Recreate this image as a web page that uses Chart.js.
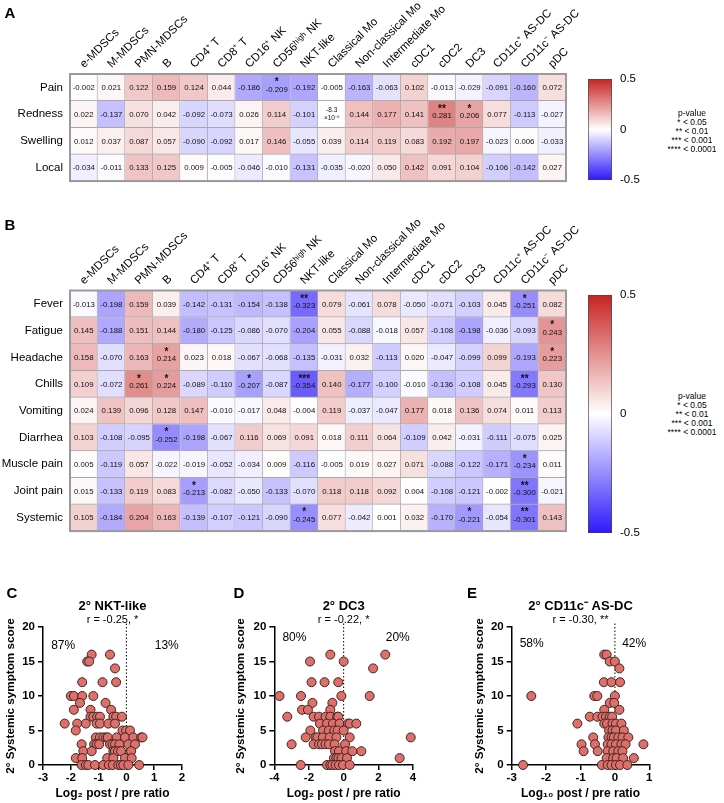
<!DOCTYPE html>
<html>
<head>
<meta charset="utf-8">
<script src="https://cdn.jsdelivr.net/npm/chart.js@4.4.1/dist/chart.umd.min.js"></script>
<style>
  body { margin: 0; background: #fff; }
  #fig { position: relative; width: 724px; height: 803px; overflow: hidden; font-family: 'Liberation Sans', Arial, sans-serif; color: #000; }
  #fig canvas { position: absolute; }
  .letter { position: absolute; font-weight: bold; font-size: 15px; line-height: 1; transform: translate(-50%, -50%); }
  .pval { position: absolute; font-size: 8.5px; line-height: 9px; text-align: center; white-space: nowrap; transform: translate(-50%, -50%); }
</style>
</head>
<body>
<div id="fig">
  <canvas id="heatA" width="580" height="195" style="left:0;top:0"></canvas>
  <canvas id="barA" width="72" height="131" style="left:578px;top:64px"></canvas>
  <canvas id="heatB" width="580" height="345" style="left:0;top:200px"></canvas>
  <canvas id="barB" width="72" height="268" style="left:578px;top:280px"></canvas>
  <canvas id="scatC" width="225" height="213" style="left:0;top:590px"></canvas>
  <canvas id="scatD" width="215" height="213" style="left:230px;top:590px"></canvas>
  <canvas id="scatE" width="215" height="213" style="left:469px;top:590px"></canvas>

  <div class="letter" style="left:10px;top:12px">A</div>
  <div class="letter" style="left:10px;top:224px">B</div>
  <div class="letter" style="left:12px;top:592px">C</div>
  <div class="letter" style="left:239px;top:592px">D</div>
  <div class="letter" style="left:472px;top:592px">E</div>

  <div class="pval" style="left:692px;top:131px">p-value<br>* &lt; 0.05<br>** &lt; 0.01<br>*** &lt; 0.001<br>**** &lt; 0.0001</div>
  <div class="pval" style="left:692px;top:414px">p-value<br>* &lt; 0.05<br>** &lt; 0.01<br>*** &lt; 0.001<br>**** &lt; 0.0001</div>
</div>

<script>
Chart.defaults.font.family = "'Liberation Sans', Arial, sans-serif";
Chart.defaults.color = '#000';

// cell types (columns of both heatmaps)
const cellTypes = ['e-MDSCs', 'M-MDSCs', 'PMN-MDSCs', 'B', 'CD4⁺ T', 'CD8⁺ T', 'CD16⁺ NK', 'CD56ʰⁱᵍʰ NK',
    'NKT-like', 'Classical Mo', 'Non-classical Mo', 'Intermediate Mo', 'cDC1', 'cDC2', 'DC3',
    'CD11c⁺ AS-DC', 'CD11c⁻ AS-DC', 'pDC'];

// A - local symptoms, correlation r
const localSymptoms = ['Pain', 'Redness', 'Swelling', 'Local'];
const localR = [
    [-0.002, 0.021, 0.122, 0.159, 0.124, 0.044, -0.186, -0.209, -0.192, -0.005, -0.163, -0.063, 0.102, -0.013, -0.029, -0.091, -0.160, 0.072],
    [0.022, -0.137, 0.070, 0.042, -0.092, -0.073, 0.026, 0.114, -0.101, -0.000083, 0.144, 0.177, 0.141, 0.281, 0.206, 0.077, -0.113, -0.027],
    [0.012, 0.037, 0.087, 0.057, -0.090, -0.092, 0.017, 0.146, -0.055, 0.039, 0.114, 0.119, 0.083, 0.192, 0.197, -0.023, 0.006, -0.033],
    [-0.034, -0.011, 0.133, 0.125, 0.009, -0.005, -0.046, -0.010, -0.131, -0.035, -0.020, 0.050, 0.142, 0.091, 0.104, -0.106, -0.142, 0.027]
];
// number of stars per cell
const localStars = [
    [0, 0, 0, 0, 0, 0, 0, 1, 0, 0, 0, 0, 0, 0, 0, 0, 0, 0],
    [0, 0, 0, 0, 0, 0, 0, 0, 0, 0, 0, 0, 0, 2, 1, 0, 0, 0],
    [0, 0, 0, 0, 0, 0, 0, 0, 0, 0, 0, 0, 0, 0, 0, 0, 0, 0],
    [0, 0, 0, 0, 0, 0, 0, 0, 0, 0, 0, 0, 0, 0, 0, 0, 0, 0]
];

// B - systemic symptoms
const systemicSymptoms = ['Fever', 'Fatigue', 'Headache', 'Chills', 'Vomiting', 'Diarrhea', 'Muscle pain', 'Joint pain', 'Systemic'];
const systemicR = [
    [-0.013, -0.198, 0.159, 0.039, -0.142, -0.131, -0.154, -0.138, -0.323, 0.079, -0.061, 0.078, -0.050, -0.071, -0.103, 0.045, -0.251, 0.082],
    [0.145, -0.188, 0.151, 0.144, -0.180, -0.125, -0.086, -0.070, -0.204, 0.055, -0.088, -0.018, 0.057, -0.108, -0.198, -0.036, -0.093, 0.243],
    [0.158, -0.070, 0.163, 0.214, 0.023, 0.018, -0.067, -0.068, -0.135, -0.031, 0.032, -0.113, 0.020, -0.047, -0.099, 0.099, -0.193, 0.223],
    [0.109, -0.072, 0.261, 0.224, -0.089, -0.110, -0.207, -0.087, -0.354, 0.140, -0.177, -0.100, -0.010, -0.136, -0.108, 0.045, -0.293, 0.130],
    [0.024, 0.139, 0.096, 0.128, 0.147, -0.010, -0.017, 0.048, -0.004, 0.119, -0.037, -0.047, 0.177, 0.018, 0.136, 0.074, 0.011, 0.113],
    [0.103, -0.108, -0.095, -0.252, -0.198, -0.067, 0.116, 0.069, 0.091, 0.018, 0.111, 0.064, -0.109, 0.042, -0.031, -0.111, -0.075, 0.025],
    [0.005, -0.119, 0.057, -0.022, -0.019, -0.052, -0.034, 0.009, -0.116, -0.005, 0.019, 0.027, 0.071, -0.088, -0.122, -0.171, -0.234, 0.011],
    [0.015, -0.133, 0.119, 0.083, -0.213, -0.082, -0.050, -0.133, -0.070, 0.118, 0.118, 0.092, 0.004, -0.108, -0.121, -0.002, -0.300, -0.021],
    [0.105, -0.184, 0.204, 0.163, -0.139, -0.107, -0.121, -0.090, -0.245, 0.077, -0.042, 0.001, 0.032, -0.170, -0.221, -0.054, -0.301, 0.143]
];
const systemicStars = [
    [0, 0, 0, 0, 0, 0, 0, 0, 2, 0, 0, 0, 0, 0, 0, 0, 1, 0],
    [0, 0, 0, 0, 0, 0, 0, 0, 0, 0, 0, 0, 0, 0, 0, 0, 0, 1],
    [0, 0, 0, 1, 0, 0, 0, 0, 0, 0, 0, 0, 0, 0, 0, 0, 0, 1],
    [0, 0, 1, 1, 0, 0, 1, 0, 3, 0, 0, 0, 0, 0, 0, 0, 2, 0],
    [0, 0, 0, 0, 0, 0, 0, 0, 0, 0, 0, 0, 0, 0, 0, 0, 0, 0],
    [0, 0, 0, 1, 0, 0, 0, 0, 0, 0, 0, 0, 0, 0, 0, 0, 0, 0],
    [0, 0, 0, 0, 0, 0, 0, 0, 0, 0, 0, 0, 0, 0, 0, 0, 1, 0],
    [0, 0, 0, 0, 1, 0, 0, 0, 0, 0, 0, 0, 0, 0, 0, 0, 2, 0],
    [0, 0, 0, 0, 0, 0, 0, 0, 1, 0, 0, 0, 0, 0, 1, 0, 2, 0]
];

const colorbarTicks = [0.5, 0, -0.5];

// C-E scatter points [log ratio, symptom score]
const nktPoints = [
    [-1.25, 16], [-0.59, 16], [-1.41, 15], [-1.34, 15], [-0.41, 14], [-1.59, 12], [-0.86, 12], [-0.37, 12],
    [-2.0, 10], [-1.89, 10], [-1.59, 10], [-1.19, 10], [-1.67, 9], [-0.75, 9], [-1.89, 8], [-1.29, 8], [-0.55, 8],
    [-1.29, 7], [-1.19, 7], [-1.05, 7], [-0.95, 7], [-0.47, 7], [-0.37, 7], [-0.16, 7],
    [-2.22, 6], [-1.77, 6], [-1.46, 6], [-1.07, 6], [-0.95, 6], [-0.65, 6], [-0.41, 6],
    [-1.82, 5], [-0.14, 5], [-0.01, 5], [0.13, 5],
    [-1.1, 4], [-0.95, 4], [-0.83, 4], [-0.73, 4], [-0.67, 4], [-0.35, 4], [-0.05, 4], [0.25, 4], [0.53, 4], [0.58, 4],
    [-1.61, 3], [-1.16, 3], [-1.07, 3], [-0.98, 3], [-0.59, 3], [-0.5, 3], [-0.41, 3], [-0.25, 3], [0.07, 3], [0.31, 3],
    [-1.55, 2], [-1.25, 2], [-0.47, 2], [-0.41, 2], [-0.3, 2], [-0.19, 2], [0.17, 2],
    [-1.82, 1], [-1.59, 1], [-0.69, 1], [-0.47, 1], [-0.05, 1], [0.19, 1],
    [-1.61, 0], [-1.46, 0], [-1.37, 0], [-1.13, 0], [-0.83, 0], [-0.63, 0], [-0.49, 0], [-0.29, 0], [-0.2, 0], [-0.11, 0], [0.07, 0], [0.46, 0]
];
const dc3Points = [
    [-0.77, 16], [2.4, 16], [-1.94, 15], [0.0, 15], [1.7, 14], [-1.85, 12], [-1.1, 12], [-0.31, 12],
    [-3.7, 10], [-2.46, 10], [-0.13, 10], [1.5, 10], [-1.8, 9], [-0.65, 9], [-2.4, 8], [-2.06, 8], [-0.77, 8],
    [-3.25, 7], [-1.73, 7], [-1.42, 7], [-1.04, 7], [-0.77, 7], [-0.37, 7], [-0.31, 7],
    [-1.37, 6], [-0.96, 6], [-0.62, 6], [-0.23, 6], [0.25, 6], [0.35, 6], [0.73, 6],
    [-1.92, 5], [-1.19, 5], [-0.85, 5], [-0.54, 5], [-0.35, 5], [0.0, 5],
    [-2.19, 4], [-1.62, 4], [-1.52, 4], [-1.2, 4], [-0.81, 4], [-0.42, 4], [0.35, 4], [3.87, 4],
    [-3.0, 3], [-1.73, 3], [-1.42, 3], [-1.25, 3], [-1.04, 3], [-0.85, 3], [-0.52, 3], [0.08, 3],
    [-0.5, 2], [-0.27, 2], [0.15, 2], [0.5, 2], [1.02, 2],
    [-0.56, 1], [-0.42, 1], [-0.3, 1], [-0.12, 1], [0.19, 1], [3.23, 1],
    [-2.48, 0], [-0.96, 0], [-0.77, 0], [-0.65, 0], [-0.46, 0], [-0.27, 0], [-0.04, 0], [0.35, 0]
];
const asdcPoints = [
    [-0.31, 16], [-0.24, 16], [-0.15, 15], [0.0, 15], [0.13, 14], [-0.32, 12], [-0.1, 12], [0.15, 12],
    [-2.43, 10], [-0.6, 10], [-0.51, 10], [0.0, 10], [-0.15, 9], [-0.02, 9], [-0.31, 8], [0.13, 8],
    [-0.73, 7], [-0.51, 7], [-0.36, 7], [-0.26, 7], [-0.15, 7], [-0.08, 7],
    [-1.09, 6], [-0.31, 6], [-0.23, 6], [-0.07, 6], [0.03, 6], [0.19, 6],
    [-0.17, 5], [-0.07, 5], [0.03, 5], [0.26, 5],
    [-0.63, 4], [-0.19, 4], [-0.1, 4], [-0.03, 4], [0.1, 4], [0.22, 4], [0.39, 4],
    [-0.97, 3], [-0.58, 3], [-0.21, 3], [-0.1, 3], [0.03, 3], [0.19, 3], [0.31, 3], [0.83, 3],
    [-0.91, 2], [-0.5, 2], [-0.21, 2], [-0.05, 2], [0.1, 2], [0.22, 2],
    [-0.24, 1], [-0.05, 1], [0.05, 1], [0.24, 1], [0.55, 1],
    [-2.67, 0], [-0.38, 0], [-0.21, 0], [-0.1, 0], [0.03, 0], [0.15, 0], [0.36, 0]
];

function cellColor(v) {
    const t = Math.min(Math.abs(v) / 0.5, 1);
    const end = v >= 0 ? [200, 35, 35] : [45, 25, 250];
    const c = end.map(e => Math.round(255 + (e - 255) * t));
    return 'rgb(' + c.join(',') + ')';
}

const supDigits = { '-': '⁻', '0': '⁰', '1': '¹', '2': '²', '3': '³', '4': '⁴', '5': '⁵', '6': '⁶', '7': '⁷', '8': '⁸', '9': '⁹' };

// writes r values and stars into the cells, and frames the grid
const cellTextPlugin = {
    id: 'cellText',
    afterDatasetsDraw(chart, args, opts) {
        const ctx = chart.ctx;
        ctx.save();
        ctx.textAlign = 'center';
        ctx.textBaseline = 'middle';
        ctx.fillStyle = '#111';
        chart.data.datasets.forEach((ds, i) => {
            chart.getDatasetMeta(i).data.forEach((bar, j) => {
                const p = bar.getCenterPoint();
                const v = opts.values[i][j];
                const n = opts.stars[i][j];
                if (v !== 0 && Math.abs(v) < 0.0005) {
                    const exp = Math.floor(Math.log10(Math.abs(v)));
                    const mant = (v / Math.pow(10, exp)).toFixed(1);
                    ctx.font = "6.5px 'Liberation Sans', Arial";
                    ctx.fillText(mant, p.x, p.y - 4);
                    ctx.fillText('×10' + String(exp).split('').map(ch => supDigits[ch]).join(''), p.x, p.y + 4);
                } else {
                    ctx.font = "7.8px 'Liberation Sans', Arial";
                    ctx.fillText(v.toFixed(3), p.x, p.y + (n ? 2 : 0.5));
                }
                if (n) {
                    ctx.font = "bold 10px 'Liberation Sans', Arial";
                    ctx.fillText('*'.repeat(n), p.x, p.y - 5);
                }
            });
        });
        const a = chart.chartArea;
        ctx.strokeStyle = '#9a9a9a';
        ctx.lineWidth = 2;
        ctx.strokeRect(a.left, a.top, a.right - a.left, a.bottom - a.top);
        ctx.restore();
    }
};

function drawHeatmap(id, rows, values, stars, headerH, padBottom) {
    new Chart(document.getElementById(id), {
        type: 'bar',
        data: {
            labels: cellTypes,
            datasets: rows.map((row, i) => ({
                label: row,
                data: cellTypes.map(() => [i, i + 1]),
                backgroundColor: values[i].map(cellColor),
                borderColor: '#a8a8a8',
                borderWidth: { top: 0, left: 0, right: 1, bottom: 1 },
                borderSkipped: false,
                grouped: false,
                barPercentage: 1,
                categoryPercentage: 1
            }))
        },
        options: {
            responsive: false,
            animation: false,
            devicePixelRatio: 1,
            layout: { padding: { top: 0, left: 0, right: 14, bottom: padBottom } },
            scales: {
                x: {
                    position: 'top',
                    offset: true,
                    grid: { display: false, drawTicks: false },
                    border: { display: false },
                    ticks: { minRotation: 45, maxRotation: 45, autoSkip: false, padding: 3, labelOffset: 8, font: { size: 11.5 } },
                    afterFit: s => { s.height = headerH; }
                },
                y: {
                    min: 0,
                    max: rows.length,
                    reverse: true,
                    grid: { display: false, drawTicks: false },
                    border: { display: false },
                    afterBuildTicks: s => { s.ticks = rows.map((r, i) => ({ value: i + 0.5 })); },
                    ticks: { autoSkip: false, padding: 7, font: { size: 11.5 }, callback: (v, i) => rows[i] },
                    afterFit: s => { s.width = 70; }
                }
            },
            plugins: {
                legend: { display: false },
                tooltip: { enabled: false },
                cellText: { values, stars }
            }
        },
        plugins: [cellTextPlugin]
    });
}

function drawColorbar(id, padTop, padBottom) {
    new Chart(document.getElementById(id), {
        type: 'bar',
        data: {
            labels: [''],
            datasets: [{
                data: [[-0.5, 0.5]],
                backgroundColor: ctx => {
                    const a = ctx.chart.chartArea;
                    if (!a) return '#fff';
                    const g = ctx.chart.ctx.createLinearGradient(0, a.top, 0, a.bottom);
                    for (let k = 0; k <= 20; k++) g.addColorStop(k / 20, cellColor(0.5 - k / 20));
                    return g;
                },
                borderColor: '#444',
                borderWidth: 1,
                borderSkipped: false,
                barPercentage: 1,
                categoryPercentage: 1
            }]
        },
        options: {
            responsive: false,
            animation: false,
            devicePixelRatio: 1,
            layout: { padding: { top: padTop, bottom: padBottom, left: 10, right: 0 } },
            scales: {
                x: { display: false },
                y: {
                    position: 'right',
                    min: -0.5,
                    max: 0.5,
                    grid: { display: false, drawTicks: false },
                    border: { display: false },
                    afterBuildTicks: s => { s.ticks = colorbarTicks.map(v => ({ value: v })); },
                    ticks: { padding: 8, font: { size: 11.5 }, callback: v => String(v) },
                    afterFit: s => { s.width = 38; }
                }
            },
            plugins: { legend: { display: false }, tooltip: { enabled: false } }
        }
    });
}

// "% below / above zero" labels inside the plot area
const percentPlugin = {
    id: 'percentText',
    afterDraw(chart, args, opts) {
        const { ctx, chartArea: a } = chart;
        ctx.save();
        ctx.font = "12px 'Liberation Sans', Arial";
        ctx.fillStyle = '#000';
        ctx.textAlign = 'center';
        ctx.textBaseline = 'middle';
        const y = a.top + opts.dy * (a.bottom - a.top);
        ctx.fillText(opts.left, a.left + 0.145 * (a.right - a.left), y);
        ctx.fillText(opts.right, a.left + 0.89 * (a.right - a.left), y);
        ctx.restore();
    }
};

const tickFont = { size: 11.5, weight: 'bold' };

function drawScatter(id, cfg) {
    new Chart(document.getElementById(id), {
        type: 'scatter',
        data: {
            datasets: [
                {
                    data: cfg.points.map(p => ({ x: p[0], y: p[1] })),
                    backgroundColor: '#df6f68',
                    borderColor: '#3a2626',
                    borderWidth: 1,
                    pointRadius: 4.5,
                    clip: false,
                    order: 0
                },
                {
                    data: [{ x: 0, y: 0 }, { x: 0, y: 20.6 }],
                    showLine: true,
                    borderColor: '#000',
                    borderWidth: 1,
                    borderDash: [1.5, 2],
                    pointRadius: 0,
                    clip: false,
                    order: 1
                }
            ]
        },
        options: {
            responsive: false,
            animation: false,
            devicePixelRatio: 1,
            layout: { padding: { top: 8.2, left: 0, right: cfg.padRight, bottom: 0 } },
            scales: {
                x: {
                    min: cfg.xMin,
                    max: cfg.xMax,
                    ticks: { stepSize: cfg.xStep, font: tickFont, padding: 1 },
                    grid: { drawOnChartArea: false, tickLength: 5, color: '#000', lineWidth: 1.5 },
                    border: { color: '#000', width: 1.5 },
                    title: { display: true, text: cfg.xTitle, font: { size: 12, weight: 'bold' }, padding: { top: 0, bottom: 2 } },
                    afterFit: s => { s.height = 38; }
                },
                y: {
                    min: 0,
                    max: 20,
                    ticks: { stepSize: 5, font: tickFont, padding: 3 },
                    grid: { drawOnChartArea: false, tickLength: 5, color: '#000', lineWidth: 1.5 },
                    border: { color: '#000', width: 1.5 },
                    title: { display: true, text: '2° Systemic symptom score', font: { size: 11.7, weight: 'bold' }, padding: { top: 4, bottom: 0 } },
                    afterFit: s => { s.width = cfg.yWidth; }
                }
            },
            plugins: {
                legend: { display: false },
                tooltip: { enabled: false },
                title: { display: true, text: cfg.title, fullSize: false, font: { size: 13, weight: 'bold' }, padding: 0 },
                subtitle: { display: true, text: cfg.r, fullSize: false, font: { size: 11 }, padding: 0 },
                percentText: { left: cfg.split[0], right: cfg.split[1], dy: cfg.dy }
            }
        },
        plugins: [percentPlugin]
    });
}

drawHeatmap('heatA', localSymptoms, localR, localStars, 74, 9);
drawColorbar('barA', 10, 9);
drawHeatmap('heatB', systemicSymptoms, systemicR, systemicStars, 90.5, 6.5);
drawColorbar('barB', 10.5, 9.5);

drawScatter('scatC', { points: nktPoints, title: '2° NKT-like', r: 'r = -0.25, *', split: ['87%', '13%'], dy: 0.138,
    xMin: -3, xMax: 2, xStep: 1, xTitle: 'Log₂ post / pre ratio', yWidth: 43, padRight: 43 });
drawScatter('scatD', { points: dc3Points, title: '2° DC3', r: 'r = -0.22, *', split: ['80%', '20%'], dy: 0.08,
    xMin: -4, xMax: 4, xStep: 2, xTitle: 'Log₂ post / pre ratio', yWidth: 44.3, padRight: 32 });
drawScatter('scatE', { points: asdcPoints, title: '2° CD11c⁻ AS-DC', r: 'r = -0.30, **', split: ['58%', '42%'], dy: 0.123,
    xMin: -3, xMax: 1, xStep: 1, xTitle: 'Log₁₀ post / pre ratio', yWidth: 42.7, padRight: 34.7 });
</script>
</body>
</html>
